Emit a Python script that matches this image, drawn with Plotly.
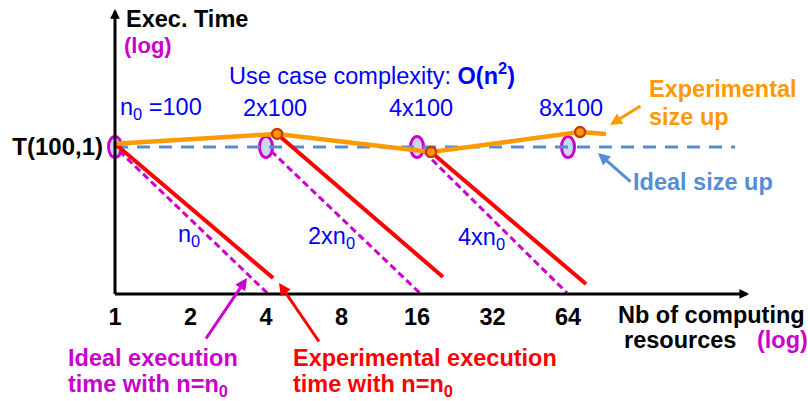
import numpy as np
import plotly.graph_objects as go

# ---------------- data ----------------
tick_resources = [1, 2, 4, 8, 16, 32, 64]
tick_labels = ["1", "2", "4", "8", "16", "32", "64"]

# ideal size-up: execution time stays at T(100,1)
ideal_sizeup_res = [1, 4, 16, 64, 297]
ideal_sizeup_time = [1, 1, 1, 1, 1]

# problem sizes marked on the ideal size-up line
size_marker_res = [1, 4, 16, 64]
size_marker_time = [1, 1, 1, 1]
size_labels = ["n<sub>0</sub> =100", "2x100", "4x100", "8x100"]

# experimental size-up curve
exp_sizeup_res = [1, 4.43, 18.2, 71.5, 90.7]
exp_sizeup_time = [1.03, 1.13, 0.954, 1.15, 1.13]

# experimental execution time with fixed n (n0, 2xn0, 4xn0)
exp_exec_res = [[1, 4.27], [4.43, 20.3], [18.2, 75.5]]
exp_exec_time = [[1.03, 0.293], [1.13, 0.296], [0.954, 0.277]]

# ideal execution time with fixed n
ideal_exec_res = [[1.04, 4.04], [4.19, 16.4], [17.1, 63.4]]
ideal_exec_time = [[0.963, 0.255], [0.963, 0.255], [0.954, 0.255]]
fixed_n_labels = ["n<sub>0</sub>", "2xn<sub>0</sub>", "4xn<sub>0</sub>"]

# ---------------- styling ----------------
FONT = "Liberation Sans, Arial, sans-serif"
BLUE_TXT = "#0000FF"
MAGENTA = "#CC00CC"
RED = "#FF0000"
ORANGE = "#FF9900"
IDEAL_BLUE = "#558ED5"
W, H = 808, 401

lx = np.log2
fig = go.Figure()

fig.add_trace(go.Scatter(x=lx(ideal_sizeup_res), y=lx(ideal_sizeup_time), mode="lines",
                         line=dict(color=IDEAL_BLUE, width=3, dash="13px,9px"), hoverinfo="skip"))
for r, t in zip(ideal_exec_res, ideal_exec_time):
    fig.add_trace(go.Scatter(x=lx(r), y=lx(t), mode="lines",
                             line=dict(color=MAGENTA, width=3, dash="7px,4px"), hoverinfo="skip"))
for r, t in zip(exp_exec_res, exp_exec_time):
    fig.add_trace(go.Scatter(x=lx(r), y=lx(t), mode="lines",
                             line=dict(color=RED, width=4), hoverinfo="skip"))
fig.add_trace(go.Scatter(x=lx(exp_sizeup_res), y=lx(exp_sizeup_time), mode="lines",
                         line=dict(color=ORANGE, width=4.5), hoverinfo="skip"))
fig.add_trace(go.Scatter(x=lx(exp_sizeup_res[1:4]), y=lx(exp_sizeup_time[1:4]), mode="markers",
                         marker=dict(size=10, color=ORANGE, line=dict(color="#C0400B", width=2.5)),
                         hoverinfo="skip"))

# ellipses marking the problem sizes on the ideal line
for r, t in zip(size_marker_res, size_marker_time):
    fig.add_shape(type="circle", xref="x", yref="y", xsizemode="pixel", ysizemode="pixel",
                  xanchor=float(lx(r)), yanchor=float(lx(t)), x0=-6.5, x1=6.5, y0=-10.5, y1=10.5,
                  fillcolor="#C6D9F1", line=dict(color=MAGENTA, width=3), layer="below")

# axes ranges (log2 units, 75.5 px per doubling horizontally, 74 px vertically)
x_range = [-1.5232, 9.1788]
y_range = [-3.4324, 1.9865]
y_axis_level = -1.986

def P(px, py):
    return dict(x=px / W, y=1 - py / H, xref="paper", yref="paper")

annotations = []

def label(text, px, py, color, size=23.5, bold=True):
    annotations.append(dict(**P(px, py), text=("<b>%s</b>" % text) if bold else text,
                            showarrow=False, xanchor="left", yanchor="middle",
                            font=dict(family=FONT, size=size, color=color)))

def arrow(hx, hy, tx, ty, color, width=3, size=0.8):
    annotations.append(dict(**P(hx, hy), text="", showarrow=True, ax=tx - hx, ay=ty - hy,
                            arrowhead=2, arrowsize=size, arrowwidth=width, arrowcolor=color))

# axis arrows (in data coords)
annotations.append(dict(x=0, y=1.865, xref="x", yref="y", ax=0, ay=y_axis_level - 0.02,
                        axref="x", ayref="y", text="", showarrow=True, arrowhead=2,
                        arrowsize=0.65, arrowwidth=3, arrowcolor="black"))
annotations.append(dict(x=8.40, y=y_axis_level, xref="x", yref="y", ax=-0.02, ay=y_axis_level,
                        axref="x", ayref="y", text="", showarrow=True, arrowhead=2,
                        arrowsize=0.65, arrowwidth=3, arrowcolor="black"))

label("Exec. Time", 124, 19, "black")
label("(log)", 122, 45, MAGENTA, size=22)
label("Use case complexity: <b>O(n<sup>2</sup>)</b>", 227, 74, BLUE_TXT, size=23.5, bold=False)
for txt, px in zip(size_labels, [118, 241, 387, 537]):
    label(txt, px, 108, BLUE_TXT, bold=False)
for txt, px, py in zip(fixed_n_labels, [176, 306, 456], [235, 237, 239]):
    label(txt, px, py, BLUE_TXT, bold=False)
label("Experimental", 647, 89, ORANGE)
label("size up", 647, 117, ORANGE)
label("Ideal size up", 631, 182, IDEAL_BLUE)
label("Nb of computing", 616, 315, "black")
label("resources", 622, 340, "black")
label("(log)", 755, 340, MAGENTA)
label("Ideal execution", 66, 358, MAGENTA)
label("time with n=n<sub>0</sub>", 66, 385, MAGENTA)
label("Experimental execution", 291, 358, RED)
label("time with n=n<sub>0</sub>", 291, 385, RED)

arrow(610, 125, 642, 105, ORANGE)
arrow(598, 153, 632, 183, IDEAL_BLUE)
arrow(247, 278, 205, 340, MAGENTA)
arrow(279, 283, 320, 343, RED)

fig.update_layout(
    width=W, height=H, autosize=False,
    margin=dict(l=0, r=0, t=0, b=0, pad=0),
    paper_bgcolor="white", plot_bgcolor="white",
    showlegend=False,
    annotations=annotations,
    xaxis=dict(range=x_range, showgrid=False, zeroline=False, showline=False,
               tickvals=list(lx(tick_resources)), ticktext=[f"<b>{t}</b>" for t in tick_labels],
               ticks="", anchor="free", position=(H - 294) / H, ticklabelstandoff=6,
               tickfont=dict(family=FONT, size=23.5, color="black"), fixedrange=True),
    yaxis=dict(range=y_range, showgrid=False, zeroline=False, showline=False,
               tickvals=[0], ticktext=["<b>T(100,1)</b>"], ticks="",
               anchor="free", position=115 / W, ticklabelstandoff=12,
               tickfont=dict(family=FONT, size=24, color="black"), fixedrange=True),
)

fig.write_html("out.html")
